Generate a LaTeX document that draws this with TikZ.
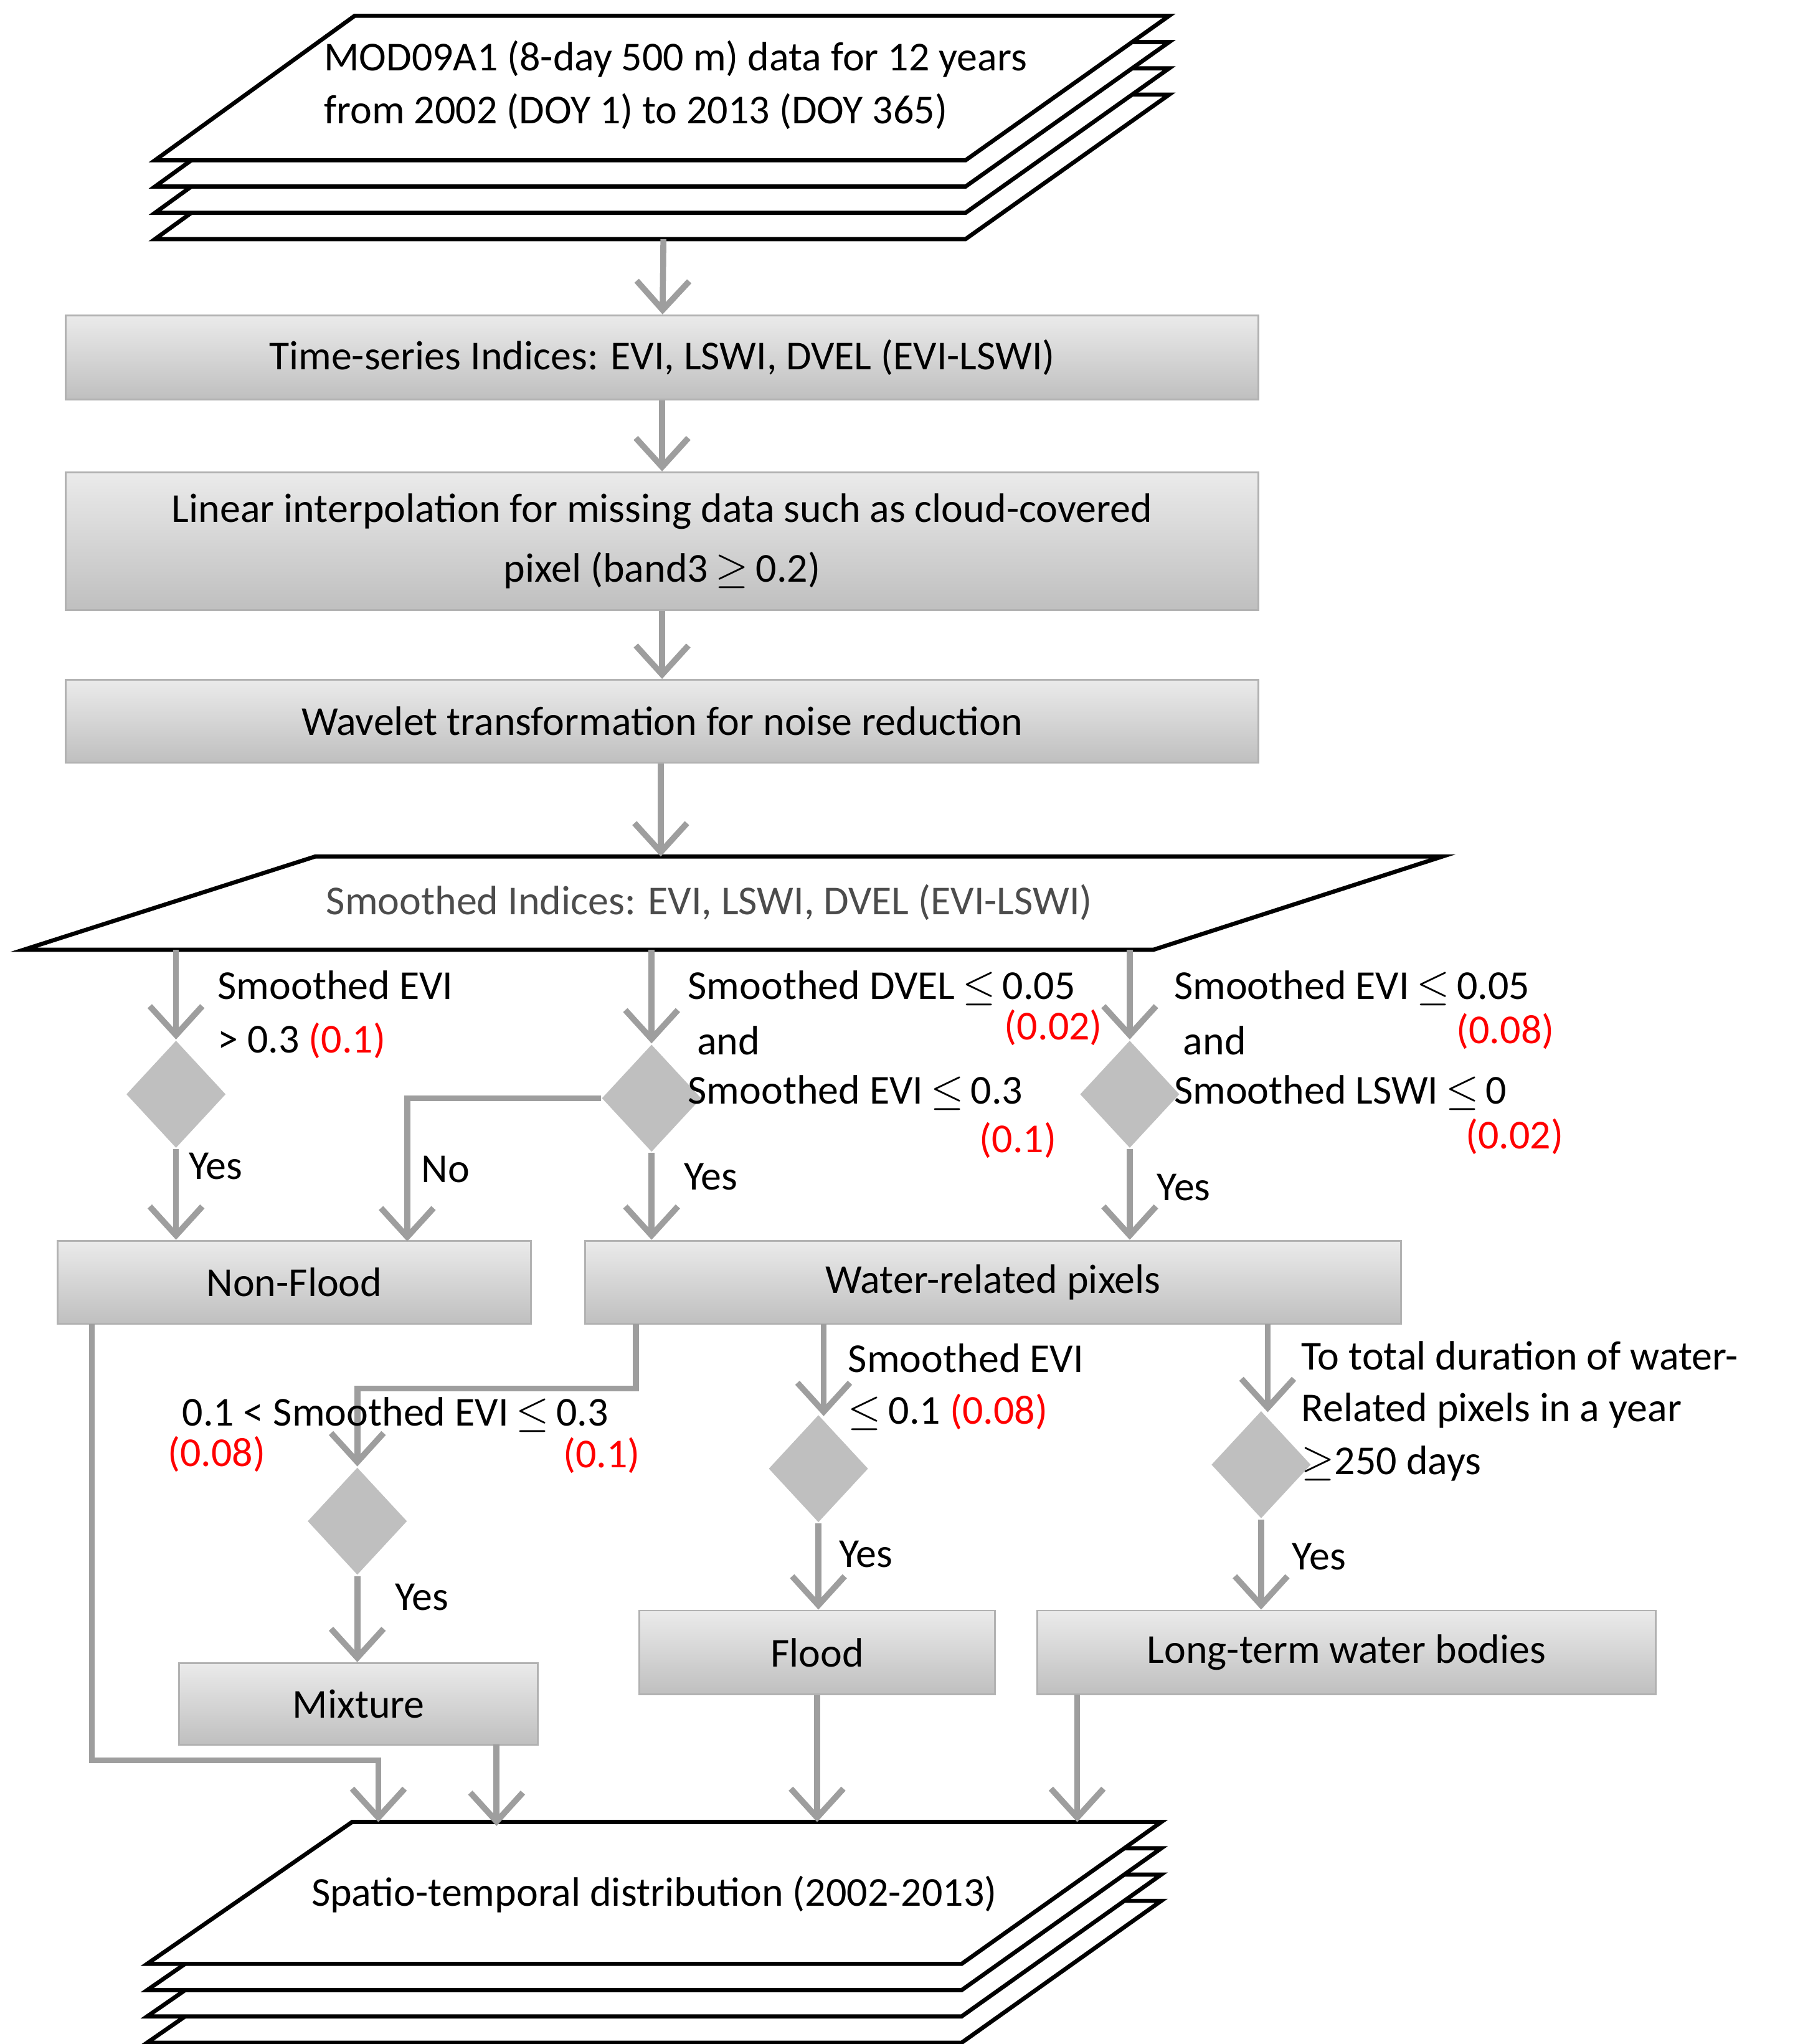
\documentclass[tikz,border=0pt]{standalone}
\usepackage{fontspec}
\setmainfont{Carlito}
\usetikzlibrary{shapes.geometric,arrows.meta}
\tikzset{
    box/.style={draw=black!30, top color=black!8, bottom color=black!25, inner sep=0pt, align=center, font=\fontsize{8.9}{13}\selectfont},
    cond/.style={diamond, fill=black!25, inner sep=0pt, minimum width=0.76cm, minimum height=0.82cm},
    flow/.style={draw=black!38, line width=1.3pt, -{Straight Barb[length=2.2mm, width=4mm, line width=1.3pt]}},
    link/.style={draw=black!38, line width=1.3pt},
    lbl/.style={anchor=west, inner sep=0pt, font=\fontsize{8.9}{10}\selectfont},
    red/.style={lbl, text=red},
    sheet/.style={draw=black, fill=white, line width=0.9pt}
}
\begin{document}
\begin{tikzpicture}[x=0.1mm, y=-0.1mm]
    \useasboundingbox (0,0) rectangle (1380,1556);

    % input data stack
    \foreach \d in {60,40,20,0}
        \draw[sheet] (270,12+\d) -- (890,12+\d) -- (735,122+\d) -- (118,122+\d) -- cycle;
    \node[lbl] at (246,45) {MOD09A1 (8-day 500 m) data for 12 years};
    \node[lbl] at (246,85) {from 2002 (DOY 1) to 2013 (DOY 365)};
    \coordinate (in) at (505,182);

    \node[box, minimum width=9.08cm, minimum height=0.64cm] (ts) at (504,272) {Time-series Indices: EVI, LSWI, DVEL (EVI-LSWI)};
    \node[box, minimum width=9.08cm, minimum height=1.05cm] (li) at (504,412) {Linear interpolation for missing data such as cloud-covered\\pixel (band3$\,\geq\,$0.2)};
    \node[box, minimum width=9.08cm, minimum height=0.63cm] (wt) at (504,549) {Wavelet transformation for noise reduction};

    \draw[flow] (in) -- (ts);
    \draw[flow] (ts) -- (li);
    \draw[flow] (li) -- (wt);

    % smoothed indices
    \draw[sheet] (240,652) -- (1098,652) -- (878,723) -- (18,723) -- cycle;
    \node[lbl, text=black!70, anchor=center] (si) at (540,687) {Smoothed Indices: EVI, LSWI, DVEL (EVI-LSWI)};
    \coordinate (sitop) at (503,652);
    \draw[flow] (wt.south -| sitop) -- (sitop);

    \node[cond] (d1) at (134,833) {};
    \node[cond] (d2) at (496,836) {};
    \node[cond] (d3) at (860,833) {};
    \coordinate (s1) at (134,723);
    \coordinate (s2) at (496,723);
    \coordinate (s3) at (860,723);
    \draw[flow] (s1) -- (d1);
    \draw[flow] (s2) -- (d2);
    \draw[flow] (s3) -- (d3);

    \node[lbl] at (165,750) {Smoothed EVI};
    \node[lbl] at (165,792) {> 0.3 \textcolor{red}{(0.1)}};
    \node[lbl] at (523,752) {Smoothed DVEL$\,\leq\,$0.05};
    \node[red] at (764,782) {(0.02)};
    \node[lbl] at (530,792) {and};
    \node[lbl] at (523,832) {Smoothed EVI$\,\leq\,$0.3};
    \node[red] at (745,868) {(0.1)};
    \node[lbl] at (893,752) {Smoothed EVI$\,\leq\,$0.05};
    \node[red] at (1108,785) {(0.08)};
    \node[lbl] at (900,792) {and};
    \node[lbl] at (893,832) {Smoothed LSWI$\,\leq\,$0};
    \node[red] at (1115,865) {(0.02)};

    \node[box, minimum width=3.6cm, minimum height=0.63cm] (nf) at (224,976) {Non-Flood};
    \node[box, minimum width=6.21cm, minimum height=0.63cm] (wr) at (756,976) {Water-related pixels};

    \draw[flow] (d1) -- (d1 |- nf.north);
    \draw[flow] (d2.west) -| (310,945);
    \draw[flow] (d2) -- (d2 |- wr.north);
    \draw[flow] (d3) -- (d3 |- wr.north);
    \node[lbl] at (143,888) {Yes};
    \node[lbl] at (320,890) {No};
    \node[lbl] at (520,896) {Yes};
    \node[lbl] at (880,904) {Yes};

    % second level
    \node[cond] (d4) at (272,1158) {};
    \node[cond] (d5) at (623,1118) {};
    \node[cond] (d6) at (960,1115) {};
    \draw[flow] (484,1008) -- (484,1057) -| (d4.north);
    \draw[flow] (627,1008) -- (627,1078);
    \draw[flow] (965,1008) -- (965,1075);

    \node[lbl] at (138,1077) {0.1 < Smoothed EVI$\,\leq\,$0.3};
    \node[red] at (127,1107) {(0.08)};
    \node[red] at (428,1108) {(0.1)};
    \node[lbl] at (645,1034) {Smoothed EVI};
    \node[lbl] at (645,1075) {$\leq\,$0.1 \textcolor{red}{(0.08)}};
    \node[lbl] at (990,1032) {To total duration of water-};
    \node[lbl] at (990,1074) {Related pixels in a year};
    \node[lbl] at (990,1114) {$\geq$250 days};

    \node[box, minimum width=2.73cm, minimum height=0.62cm] (mx) at (273,1297) {Mixture};
    \node[box, minimum width=2.71cm, minimum height=0.64cm] (fl) at (622,1258) {Flood};
    \node[box, minimum width=4.71cm, minimum height=0.64cm] (lt) at (1025,1258) {Long-term water bodies};

    \draw[flow] (d4) -- (d4 |- mx.north);
    \draw[flow] (d5) -- (d5 |- fl.north);
    \draw[flow] (d6) -- (d6 |- lt.north);
    \node[lbl] at (300,1216) {Yes};
    \node[lbl] at (638,1183) {Yes};
    \node[lbl] at (983,1185) {Yes};

    % output stack
    \foreach \d in {60,40,20,0}
        \draw[sheet] (268,1387+\d) -- (884,1387+\d) -- (732,1495+\d) -- (112,1495+\d) -- cycle;
    \node[lbl, anchor=center] (out) at (498,1442) {Spatio-temporal distribution (2002-2013)};

    \draw[flow] (70,1008) -- (70,1340) -| (288,1387);
    \draw[flow] (378,1328) -- (378,1390);
    \draw[flow] (fl.south) -- (622,1387);
    \draw[flow] (820,1290) -- (820,1387);
\end{tikzpicture}
\end{document}
